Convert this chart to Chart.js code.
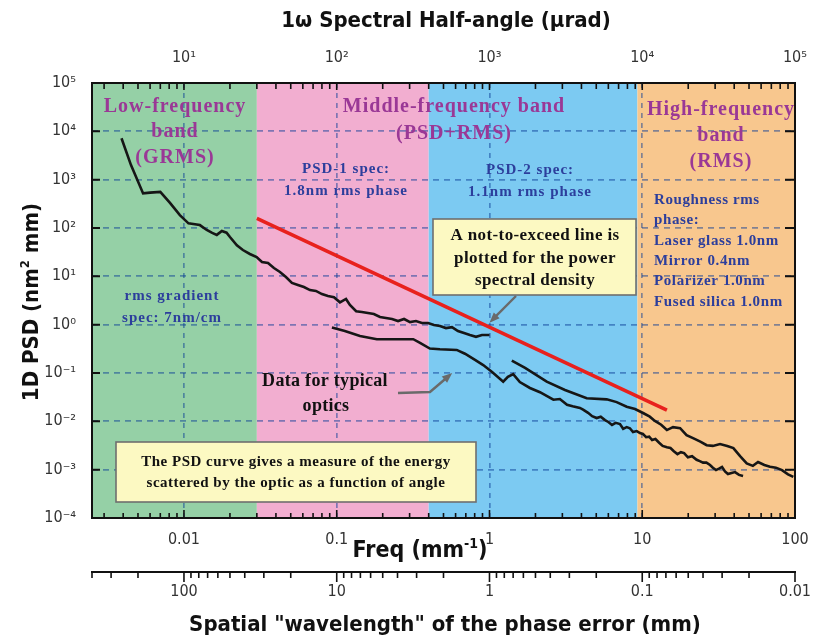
<!DOCTYPE html>
<html>
<head>
<meta charset="utf-8">
<script src="https://cdn.jsdelivr.net/npm/chart.js@4.4.1/dist/chart.umd.min.js"></script>
<style>
  html, body { margin: 0; padding: 0; background: #ffffff; }
  #wrap { width: 813px; height: 644px; position: relative; }
</style>
</head>
<body>
<div id="wrap"><canvas id="psdChart" width="813" height="644"></canvas></div>
<script>
// ---------- axis ticks ----------
const freqTicks = [0.01, 0.1, 1, 10, 100];
const freqTickLabels = ['0.01', '0.1', '1', '10', '100'];
const angleTicks = [10, 100, 1000, 10000, 100000];
const angleTickLabels = ['10¹', '10²', '10³', '10⁴', '10⁵'];
const wavelengthTicks = [100, 10, 1, 0.1, 0.01];
const wavelengthTickLabels = ['100', '10', '1', '0.1', '0.01'];
const psdTicks = [1e-4, 1e-3, 1e-2, 1e-1, 1, 10, 100, 1e3, 1e4, 1e5];
const psdTickLabels = ['10⁻⁴', '10⁻³', '10⁻²', '10⁻¹', '10⁰', '10¹', '10²', '10³', '10⁴', '10⁵'];

// ---------- frequency bands (mm^-1) ----------
const bandEdges = [0.0025, 0.030, 0.40, 9.3, 100];
const bandColors = ['#95d0a6', '#f2aed0', '#7ccaf2', '#f8c78e'];

// ---------- measured PSD of typical optics ----------
const opticA_freq = [0.0039, 0.0045, 0.0054, 0.0060, 0.0070, 0.0081, 0.0094, 0.0107, 0.0118, 0.0127,
  0.0141, 0.0153, 0.0164, 0.0177, 0.0190, 0.0200, 0.0222, 0.0243, 0.0270, 0.0299,
  0.0324, 0.0355, 0.0388, 0.0425, 0.0465, 0.0509, 0.0557, 0.0610, 0.0668, 0.0731,
  0.0800, 0.0876, 0.0959, 0.105, 0.115, 0.122, 0.134, 0.146, 0.160, 0.175,
  0.192, 0.210, 0.230, 0.252, 0.276, 0.302, 0.330, 0.361, 0.396, 0.433,
  0.474, 0.519, 0.568, 0.622, 0.681, 0.745, 0.816, 0.893, 1.0];
const opticA_psd = [7200, 2000, 520, 540, 560, 330, 185, 125, 120, 115,
  91, 79, 72, 87, 80, 65, 44, 35, 29, 25,
  19.8, 18.9, 14.9, 12.3, 9.7, 7.3, 6.6, 6.0, 5.2, 5.0,
  4.3, 3.9, 3.7, 2.9, 3.4, 2.55, 1.9, 1.83, 1.74, 1.66,
  1.44, 1.37, 1.31, 1.19, 1.31, 1.13, 1.19, 1.08, 1.08, 0.98,
  0.94, 0.85, 0.89, 0.74, 0.67, 0.61, 0.56, 0.61, 0.61];

const opticB_freq = [0.093, 0.113, 0.142, 0.183, 0.241, 0.317, 0.351, 0.407, 0.474, 0.61,
  0.691, 0.804, 0.91, 1.04, 1.23, 1.32, 1.43, 1.58, 1.84, 2.14,
  2.62, 2.89, 3.22, 3.5, 3.91, 4.1, 4.42, 4.7, 5.03, 5.35,
  5.70, 6.0, 6.34, 6.7, 7.15, 7.5, 7.91, 8.3, 8.70, 9.2,
  9.67, 10.1, 10.6, 11.1, 11.6, 12.2, 12.9, 13.6, 14.5, 15.3,
  16.1, 17.0, 17.9, 18.8, 19.9, 21.2, 22.7, 23.8, 25.0, 26.3,
  27.8, 29.0, 30.4, 31.8, 33.3, 34.8, 36.4, 38.4, 40.5, 43.0, 45.7];
const opticB_psd = [0.87, 0.74, 0.58, 0.50, 0.50, 0.50, 0.42, 0.32, 0.31, 0.30,
  0.25, 0.186, 0.146, 0.105, 0.066, 0.083, 0.095, 0.065, 0.049, 0.040,
  0.028, 0.029, 0.022, 0.0205, 0.019, 0.0175, 0.015, 0.0128, 0.0117, 0.0125,
  0.0106, 0.0097, 0.0084, 0.0093, 0.0088, 0.0070, 0.0076, 0.0072, 0.0060, 0.0063,
  0.0057, 0.0055, 0.0047, 0.0048, 0.0041, 0.0043, 0.0036, 0.0031, 0.0029, 0.0028,
  0.0024, 0.0021, 0.0023, 0.0022, 0.0018, 0.0019, 0.0016, 0.0015, 0.0014, 0.0014,
  0.00125, 0.0011, 0.00098, 0.00105, 0.00114, 0.00092, 0.00081, 0.00085, 0.00089, 0.00078, 0.00074];

const opticC_freq = [1.40, 1.71, 2.37, 3.12, 4.33, 5.85, 6.8, 7.91, 8.97, 10.2,
  11.2, 12.1, 13.3, 14.5, 15.9, 17.7, 19.5, 21.5, 24.0, 26.4,
  29.0, 32.3, 36.0, 39.5, 43.7, 48.3, 53.0, 57.3, 63.0, 68.6,
  75.0, 82.2, 90.0, 97.5];
const opticC_psd = [0.18, 0.127, 0.066, 0.0445, 0.030, 0.0285, 0.025, 0.020, 0.018, 0.0147,
  0.0125, 0.0102, 0.0085, 0.0066, 0.0076, 0.0072, 0.0052, 0.0045, 0.0038, 0.0032,
  0.0031, 0.0034, 0.0031, 0.0028, 0.0019, 0.00135, 0.0012, 0.00144, 0.00125, 0.00115,
  0.0011, 0.00098, 0.0008, 0.00071];

// ---------- not-to-exceed specification line ----------
const limitFreq = [0.030, 14.5];
const limitPsd = [158, 0.017];

// ---------- helpers ----------
const NARROW = "'Liberation Sans Narrow', 'Arial Narrow', 'DejaVu Sans Condensed', 'Liberation Sans', sans-serif";
const SERIF = "'Liberation Serif', 'Times New Roman', serif";
const GRID_COLOR = 'rgba(10, 60, 150, 0.5)';

function zip(xs, ys) {
  const n = Math.min(xs.length, ys.length);
  const out = [];
  for (let i = 0; i < n; i++) out.push({ x: xs[i], y: ys[i] });
  return out;
}
function isDecade(v) {
  if (!(v > 0)) return false;
  const l = Math.log10(v);
  return Math.abs(l - Math.round(l)) < 1e-6;
}
function labelFor(v, ticks, labels) {
  for (let i = 0; i < ticks.length; i++) {
    if (Math.abs(Math.log10(v) - Math.log10(ticks[i])) < 1e-6) return labels[i];
  }
  return '';
}
function logSteps(min, max) {
  const out = [];
  const e0 = Math.floor(Math.log10(min)), e1 = Math.ceil(Math.log10(max));
  for (let e = e0; e <= e1; e++) {
    for (let m = 1; m < 10; m++) {
      const v = m * Math.pow(10, e);
      if (v >= min * 0.9999 && v <= max * 1.0001) out.push({ v, major: m === 1 });
    }
  }
  return out;
}
function text(ctx, str, x, y, font, color, align, spacing) {
  ctx.save();
  ctx.font = font;
  ctx.fillStyle = color;
  ctx.textAlign = align || 'center';
  ctx.textBaseline = 'middle';
  if ('letterSpacing' in ctx) ctx.letterSpacing = (spacing || 0) + 'px';
  ctx.fillText(str, x, y);
  ctx.restore();
}
// text made of pieces, some raised as superscripts, centred on x
function supText(ctx, parts, x, y, size, weight, family, color) {
  ctx.save();
  ctx.textBaseline = 'alphabetic';
  ctx.fillStyle = color;
  const fonts = parts.map(p => `${weight} ${p.sup ? Math.round(size * 0.6) : size}px ${family}`);
  let total = 0;
  parts.forEach((p, i) => { ctx.font = fonts[i]; total += ctx.measureText(p.t).width; });
  let cx = x - total / 2;
  const base = y + size * 0.36;
  parts.forEach((p, i) => {
    ctx.font = fonts[i];
    ctx.textAlign = 'left';
    ctx.fillText(p.t, cx, p.sup ? base - size * 0.42 : base);
    cx += ctx.measureText(p.t).width;
  });
  ctx.restore();
}
function box(ctx, x1, y1, x2, y2) {
  ctx.save();
  ctx.fillStyle = '#fcf9c2';
  ctx.strokeStyle = '#6f6f6f';
  ctx.lineWidth = 1.6;
  ctx.fillRect(x1, y1, x2 - x1, y2 - y1);
  ctx.strokeRect(x1, y1, x2 - x1, y2 - y1);
  ctx.restore();
}
function arrow(ctx, pts) {
  ctx.save();
  ctx.strokeStyle = '#6a6a6a';
  ctx.fillStyle = '#6a6a6a';
  ctx.lineWidth = 2.4;
  const n = pts.length;
  const [tx, ty] = pts[n - 1];
  const [px, py] = pts[n - 2];
  const ang = Math.atan2(ty - py, tx - px);
  const head = 11;
  ctx.beginPath();
  ctx.moveTo(pts[0][0], pts[0][1]);
  for (let i = 1; i < n - 1; i++) ctx.lineTo(pts[i][0], pts[i][1]);
  ctx.lineTo(tx - Math.cos(ang) * head * 0.8, ty - Math.sin(ang) * head * 0.8);
  ctx.stroke();
  ctx.beginPath();
  ctx.moveTo(tx, ty);
  ctx.lineTo(tx - head * Math.cos(ang - 0.38), ty - head * Math.sin(ang - 0.38));
  ctx.lineTo(tx - head * Math.cos(ang + 0.38), ty - head * Math.sin(ang + 0.38));
  ctx.closePath();
  ctx.fill();
  ctx.restore();
}
// keep tick-label overhang from shrinking the plot area
function fixSize(prop, size) {
  return s => {
    s[prop] = size;
    s.paddingLeft = 0; s.paddingRight = 0; s.paddingTop = 0; s.paddingBottom = 0;
  };
}

// ---------- decorations: bands, notes, frame, ticks, titles ----------
const decor = {
  id: 'decor',
  beforeDraw(chart) {
    const { ctx, chartArea: a, scales: { x } } = chart;
    ctx.save();
    for (let i = 0; i < bandColors.length; i++) {
      const x1 = x.getPixelForValue(bandEdges[i]);
      const x2 = x.getPixelForValue(bandEdges[i + 1]);
      ctx.fillStyle = bandColors[i];
      ctx.fillRect(x1, a.top, x2 - x1, a.bottom - a.top);
    }
    ctx.restore();
  },
  afterDatasetsDraw(chart) {
    const { ctx, chartArea: a, scales: { x, y, x2, x3 } } = chart;
    const purple = '#9a3896';
    const blue = '#2c3e9c';
    const bandFont = `bold 20px ${SERIF}`;
    const specFont = `bold 15px ${SERIF}`;

    text(ctx, 'Low-frequency', 175, 107, bandFont, purple, 'center', 1);
    text(ctx, 'band', 175, 132, bandFont, purple, 'center', 1);
    text(ctx, '(GRMS)', 175, 158, bandFont, purple, 'center', 1);
    text(ctx, 'Middle-frequency band', 454, 107, bandFont, purple, 'center', 1);
    text(ctx, '(PSD+RMS)', 454, 134, bandFont, purple, 'center', 1);
    text(ctx, 'High-frequency', 721, 110, bandFont, purple, 'center', 1);
    text(ctx, 'band', 721, 136, bandFont, purple, 'center', 1);
    text(ctx, '(RMS)', 721, 162, bandFont, purple, 'center', 1);

    text(ctx, 'PSD-1 spec:', 346, 169, specFont, blue, 'center', 1);
    text(ctx, '1.8nm rms phase', 346, 191, specFont, blue, 'center', 1);
    text(ctx, 'PSD-2 spec:', 530, 170, specFont, blue, 'center', 1);
    text(ctx, '1.1nm rms phase', 530, 192, specFont, blue, 'center', 1);
    text(ctx, 'rms gradient', 172, 296, specFont, blue, 'center', 1);
    text(ctx, 'spec: 7nm/cm', 172, 318, specFont, blue, 'center', 1);
    const rough = ['Roughness rms', 'phase:', 'Laser glass 1.0nm', 'Mirror 0.4nm', 'Polarizer 1.0nm', 'Fused silica 1.0nm'];
    rough.forEach((s, i) => text(ctx, s, 654, 200 + i * 20.4, specFont, blue, 'left', 0.6));

    // note on the specification line
    box(ctx, 433, 219, 636, 295);
    const noteFont = `bold 17px ${SERIF}`;
    text(ctx, 'A not-to-exceed line is', 535, 236, noteFont, '#111', 'center', 0.4);
    text(ctx, 'plotted for the power', 535, 259, noteFont, '#111', 'center', 0.4);
    text(ctx, 'spectral density', 535, 281, noteFont, '#111', 'center', 0.4);
    arrow(ctx, [[516, 296], [x.getPixelForValue(1.0), y.getPixelForValue(1.1)]]);

    // note on the measured data
    const dataFont = `bold 18px ${SERIF}`;
    text(ctx, 'Data for typical', 325, 381, dataFont, '#111', 'center', 0.3);
    text(ctx, 'optics', 326, 406, dataFont, '#111', 'center', 0.3);
    arrow(ctx, [[398, 393], [430, 392], [x.getPixelForValue(0.57), y.getPixelForValue(0.1)]]);

    // explanatory box
    box(ctx, 116, 442, 476, 502);
    const boxFont = `bold 15px ${SERIF}`;
    text(ctx, 'The PSD curve gives a measure of the energy', 296, 462, boxFont, '#111', 'center', 0.5);
    text(ctx, 'scattered by the optic as a function of angle', 296, 483, boxFont, '#111', 'center', 0.5);

    // frame and inward ticks
    ctx.save();
    ctx.strokeStyle = '#111';
    ctx.lineWidth = 2;
    ctx.strokeRect(a.left, a.top, a.right - a.left, a.bottom - a.top);
    ctx.lineWidth = 1.6;
    ctx.beginPath();
    logSteps(x.min, x.max).forEach(t => {
      const px = x.getPixelForValue(t.v);
      ctx.moveTo(px, a.bottom);
      ctx.lineTo(px, a.bottom - (t.major ? 8 : 5));
    });
    logSteps(x2.min, x2.max).forEach(t => {
      const px = x2.getPixelForValue(t.v);
      ctx.moveTo(px, a.top);
      ctx.lineTo(px, a.top + (t.major ? 7 : 6));
    });
    logSteps(x3.min, x3.max).forEach(t => {
      const px = x3.getPixelForValue(t.v);
      ctx.moveTo(px, x3.top);
      ctx.lineTo(px, x3.top + (t.major ? 10 : 6));
    });
    ctx.stroke();
    ctx.lineWidth = 2;
    ctx.beginPath();
    psdTicks.forEach(v => {
      const py = y.getPixelForValue(v);
      ctx.moveTo(a.left, py); ctx.lineTo(a.left + 8, py);
      ctx.moveTo(a.right, py); ctx.lineTo(a.right - 10, py);
    });
    ctx.stroke();
    ctx.restore();
  },
  afterDraw(chart) {
    const { ctx } = chart;
    supText(ctx, [{ t: '1ω Spectral Half-angle (µrad)' }], 446, 19, 22, 'bold', NARROW, '#111');
    supText(ctx, [{ t: 'Freq (mm' }, { t: '-1', sup: true }, { t: ')' }], 420, 549, 23, 'bold', NARROW, '#111');
    supText(ctx, [{ t: 'Spatial "wavelength" of the phase error (mm)' }], 445, 623, 22, 'bold', NARROW, '#111');
    ctx.save();
    ctx.translate(30, 302);
    ctx.rotate(-Math.PI / 2);
    supText(ctx, [{ t: '1D PSD (nm' }, { t: '2', sup: true }, { t: ' mm)' }], 0, 0, 22, 'bold', NARROW, '#111');
    ctx.restore();
  }
};

const lineStyle = { borderColor: '#161616', borderWidth: 2.6, pointRadius: 0, showLine: true, tension: 0, fill: false };
const tickFont = { family: NARROW, size: 16 };

new Chart(document.getElementById('psdChart'), {
  type: 'scatter',
  data: {
    datasets: [
      Object.assign({ label: 'Optic A', data: zip(opticA_freq, opticA_psd) }, lineStyle),
      Object.assign({ label: 'Optic B', data: zip(opticB_freq, opticB_psd) }, lineStyle),
      Object.assign({ label: 'Optic C', data: zip(opticC_freq, opticC_psd) }, lineStyle),
      { label: 'Not-to-exceed', data: zip(limitFreq, limitPsd), borderColor: '#e8211d', borderWidth: 3.6,
        pointRadius: 0, showLine: true, tension: 0, fill: false }
    ]
  },
  options: {
    responsive: false,
    animation: false,
    devicePixelRatio: 1,
    layout: { padding: { left: 0, right: 18, top: 0, bottom: 0 } },
    plugins: { legend: { display: false }, tooltip: { enabled: false } },
    scales: {
      x: {
        type: 'logarithmic', position: 'bottom', min: 0.0025, max: 100, weight: 0,
        grid: { color: c => (c.tick && isDecade(c.tick.value)) ? GRID_COLOR : 'rgba(0,0,0,0)', lineWidth: 1.7, drawTicks: false },
        border: { display: false, dash: [5, 5] },
        ticks: { autoSkip: false, maxRotation: 0, padding: 12, color: '#333', font: tickFont,
          callback: v => labelFor(v, freqTicks, freqTickLabels) },
        afterFit: fixSize('height', 54)
      },
      x3: {
        type: 'logarithmic', position: 'bottom', reverse: true, min: 0.01, max: 400, weight: 1,
        grid: { display: false, drawOnChartArea: false, drawTicks: false },
        border: { display: true, color: '#111', width: 2 },
        ticks: { autoSkip: false, maxRotation: 0, padding: 10, color: '#333', font: tickFont,
          callback: v => labelFor(v, wavelengthTicks, wavelengthTickLabels) },
        afterFit: fixSize('height', 72)
      },
      x2: {
        type: 'logarithmic', position: 'top', min: 2.5, max: 100000,
        grid: { display: false, drawOnChartArea: false, drawTicks: false },
        border: { display: false },
        ticks: { autoSkip: false, maxRotation: 0, padding: 16, color: '#333', font: tickFont,
          callback: v => labelFor(v, angleTicks, angleTickLabels) },
        afterFit: fixSize('height', 83)
      },
      y: {
        type: 'logarithmic', position: 'left', min: 1e-4, max: 1e5,
        grid: { color: c => (c.tick && isDecade(c.tick.value)) ? GRID_COLOR : 'rgba(0,0,0,0)', lineWidth: 1.7, drawTicks: false },
        border: { display: false, dash: [6, 5] },
        ticks: { autoSkip: false, padding: 16, color: '#333', font: tickFont,
          callback: v => labelFor(v, psdTicks, psdTickLabels) },
        afterFit: fixSize('width', 92)
      }
    }
  },
  plugins: [decor]
});
</script>
</body>
</html>
